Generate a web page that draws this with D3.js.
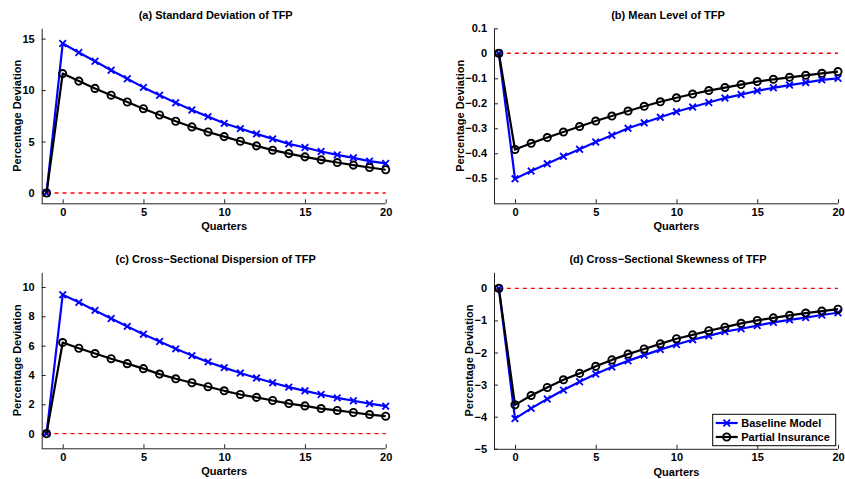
<!DOCTYPE html>
<html>
<head>
<meta charset="utf-8">
<script src="https://cdn.jsdelivr.net/npm/d3@7/dist/d3.min.js"></script>
<style>
  html, body { margin: 0; padding: 0; background: #fff; }
  svg { display: block; }
  text { font-family: "Liberation Sans", Arial, Helvetica, sans-serif; font-weight: bold; }
</style>
</head>
<body>
<svg id="chart" width="845" height="479"></svg>
<script>
// ---------- data ----------
const quarters = [-1,0,1,2,3,4,5,6,7,8,9,10,11,12,13,14,15,16,17,18,19,20];
const xTicks = [0,5,10,15,20];

const stdBase    = [0,14.52,13.65,12.80,11.93,11.10,10.26,9.50,8.77,8.06,7.42,6.77,6.26,5.74,5.26,4.77,4.42,4.03,3.71,3.42,3.10,2.87];
const stdPartial = [0,11.60,10.87,10.16,9.50,8.84,8.19,7.58,6.97,6.42,5.93,5.48,5.03,4.58,4.16,3.83,3.51,3.22,2.96,2.71,2.48,2.26];

const meanBase    = [0,-0.502,-0.471,-0.442,-0.412,-0.384,-0.355,-0.328,-0.300,-0.278,-0.256,-0.234,-0.215,-0.197,-0.179,-0.165,-0.150,-0.138,-0.127,-0.117,-0.106,-0.100];
const meanPartial = [0,-0.385,-0.360,-0.337,-0.315,-0.293,-0.271,-0.251,-0.231,-0.212,-0.194,-0.178,-0.163,-0.149,-0.137,-0.125,-0.113,-0.104,-0.096,-0.088,-0.080,-0.073];

const dispBase    = [0,9.47,8.95,8.40,7.85,7.31,6.78,6.28,5.78,5.32,4.89,4.50,4.13,3.79,3.47,3.17,2.92,2.67,2.44,2.24,2.05,1.87];
const dispPartial = [0,6.21,5.82,5.46,5.11,4.77,4.43,4.06,3.74,3.47,3.20,2.92,2.67,2.47,2.26,2.05,1.89,1.71,1.58,1.44,1.30,1.19];

const skewBase    = [0,-4.06,-3.74,-3.45,-3.17,-2.91,-2.67,-2.45,-2.26,-2.08,-1.91,-1.75,-1.60,-1.48,-1.35,-1.26,-1.16,-1.06,-0.98,-0.91,-0.83,-0.76];
const skewPartial = [0,-3.63,-3.34,-3.09,-2.85,-2.65,-2.43,-2.23,-2.05,-1.89,-1.73,-1.57,-1.45,-1.32,-1.21,-1.09,-1.00,-0.92,-0.84,-0.77,-0.71,-0.65];

const stdTicks  = [0,5,10,15];
const meanTicks = [-0.5,-0.4,-0.3,-0.2,-0.1,0,0.1];
const dispTicks = [0,2,4,6,8,10];
const skewTicks = [-5,-4,-3,-2,-1,0];

const titles = [
  "(a) Standard Deviation of TFP",
  "(b) Mean Level of TFP",
  "(c) Cross\u2212Sectional Dispersion of TFP",
  "(d) Cross\u2212Sectional Skewness of TFP"
];
const seriesNames = ["Baseline Model", "Partial Insurance"];
const xLabel = "Quarters";
const yLabel = "Percentage Deviation";

// ---------- layout ----------
const fmtInt = d3.format("d");
const fmtDec = d => d === 0 ? "0" : d3.format(".1f")(d);
const panels = [
  {title: titles[0], base: stdBase,  partial: stdPartial,  yDom: [-1, 16],    yTicks: stdTicks,  fmt: fmtInt, left: 41.7, top: 28.3,  w: 344, h: 175, ylabX: 16.7},
  {title: titles[1], base: meanBase, partial: meanPartial, yDom: [-0.6, 0.1], yTicks: meanTicks, fmt: fmtDec, left: 494,  top: 28.3,  w: 344, h: 175, ylabX: 460},
  {title: titles[2], base: dispBase, partial: dispPartial, yDom: [-1, 11],    yTicks: dispTicks, fmt: fmtInt, left: 41.7, top: 272.3, w: 344, h: 176, ylabX: 16.7},
  {title: titles[3], base: skewBase, partial: skewPartial, yDom: [-5, 0.5],   yTicks: skewTicks, fmt: fmtInt, left: 494,  top: 272.3, w: 344, h: 176.5, ylabX: 469.3, legend: true}
];

const svg = d3.select("#chart");
const BLUE = "#0000ff", BLACK = "#000000", RED = "#ff0000";
const FS = 11;

function xMarker(g, x, y, s) {
  g.append("path")
    .attr("d", `M${x-s},${y-s}L${x+s},${y+s}M${x-s},${y+s}L${x+s},${y-s}`)
    .attr("stroke", BLUE).attr("stroke-width", 1.8).attr("fill", "none");
}

panels.forEach(p => {
  const g = svg.append("g");
  const x = d3.scaleLinear().domain([-1.3, 20]).range([p.left, p.left + p.w]);
  const y = d3.scaleLinear().domain(p.yDom).range([p.top + p.h, p.top]);

  // axes
  const xAxis = d3.axisBottom(x).tickValues(xTicks).tickSizeInner(-4).tickSizeOuter(0).tickPadding(4);
  const yAxis = d3.axisLeft(y).tickValues(p.yTicks).tickSizeInner(-4).tickSizeOuter(0).tickPadding(7).tickFormat(p.fmt);

  const gx = g.append("g").attr("transform", `translate(0,${p.top + p.h})`).call(xAxis);
  const gy = g.append("g").attr("transform", `translate(${p.left},0)`).call(yAxis);
  [gx, gy].forEach(a => {
    a.select(".domain").attr("stroke", "#222").attr("stroke-width", 1);
    a.selectAll(".tick line").attr("stroke", "#222").attr("stroke-width", 1);
    a.selectAll(".tick text").attr("font-size", FS).attr("fill", "#000")
      .attr("font-family", "'Liberation Sans', Arial, sans-serif").attr("font-weight", "bold");
  });
  gx.selectAll(".tick text").attr("dy", "0.78em");
  // extend x axis domain line to the y axis
  gx.select(".domain").attr("d", `M${p.left},0.5H${p.left + p.w}`);

  // zero dashed line
  g.append("line")
    .attr("x1", x(-1)).attr("x2", x(20))
    .attr("y1", y(0)).attr("y2", y(0))
    .attr("stroke", RED).attr("stroke-width", 1.4)
    .attr("stroke-dasharray", "4,4");

  const line = d3.line().x((d, i) => x(quarters[i])).y(d => y(d));

  // baseline (blue, x markers)
  g.append("path").datum(p.base).attr("d", line)
    .attr("fill", "none").attr("stroke", BLUE).attr("stroke-width", 2.2).attr("stroke-linejoin", "round");
  p.base.forEach((v, i) => xMarker(g, x(quarters[i]), y(v), 3.3));

  // partial insurance (black, circles)
  g.append("path").datum(p.partial).attr("d", line)
    .attr("fill", "none").attr("stroke", BLACK).attr("stroke-width", 2.2).attr("stroke-linejoin", "round");
  g.selectAll("circle.pi").data(p.partial).enter().append("circle")
    .attr("class", "pi")
    .attr("cx", (d, i) => x(quarters[i])).attr("cy", d => y(d)).attr("r", 3.6)
    .attr("fill", "none").attr("stroke", BLACK).attr("stroke-width", 1.9);

  // title
  g.append("text").attr("x", p.left + p.w / 2 + 2).attr("y", p.top - 9)
    .attr("text-anchor", "middle").attr("font-size", FS).text(p.title);

  // x label
  g.append("text").attr("x", p.left + 21 + (p.w - 21) / 2).attr("y", p.top + p.h + 27)
    .attr("text-anchor", "middle").attr("font-size", FS).text(xLabel);

  // y label
  g.append("text")
    .attr("transform", `translate(${p.ylabX + 4},${p.top + p.h / 2}) rotate(-90)`)
    .attr("text-anchor", "middle").attr("font-size", FS).text(yLabel);

  if (p.legend) {
    const lx = 712.7, ly = 414.3, lw = 123, lh = 31.4;
    const lg = g.append("g");
    lg.append("rect").attr("x", lx).attr("y", ly).attr("width", lw).attr("height", lh)
      .attr("fill", "#fff").attr("stroke", "#000").attr("stroke-width", 1);
    const rows = [ly + 8.7, ly + 22.7];
    // baseline row
    lg.append("line").attr("x1", lx + 3).attr("x2", lx + 25).attr("y1", rows[0]).attr("y2", rows[0])
      .attr("stroke", BLUE).attr("stroke-width", 2.2);
    xMarker(lg, lx + 14, rows[0], 3.3);
    lg.append("text").attr("x", lx + 28.5).attr("y", rows[0]).attr("dy", "0.36em")
      .attr("font-size", FS).text(seriesNames[0]);
    // partial row
    lg.append("line").attr("x1", lx + 3).attr("x2", lx + 25).attr("y1", rows[1]).attr("y2", rows[1])
      .attr("stroke", BLACK).attr("stroke-width", 2.2);
    lg.append("circle").attr("cx", lx + 14).attr("cy", rows[1]).attr("r", 3.6)
      .attr("fill", "none").attr("stroke", BLACK).attr("stroke-width", 1.9);
    lg.append("text").attr("x", lx + 28.5).attr("y", rows[1]).attr("dy", "0.36em")
      .attr("font-size", FS).text(seriesNames[1]);
  }
});
</script>
</body>
</html>
